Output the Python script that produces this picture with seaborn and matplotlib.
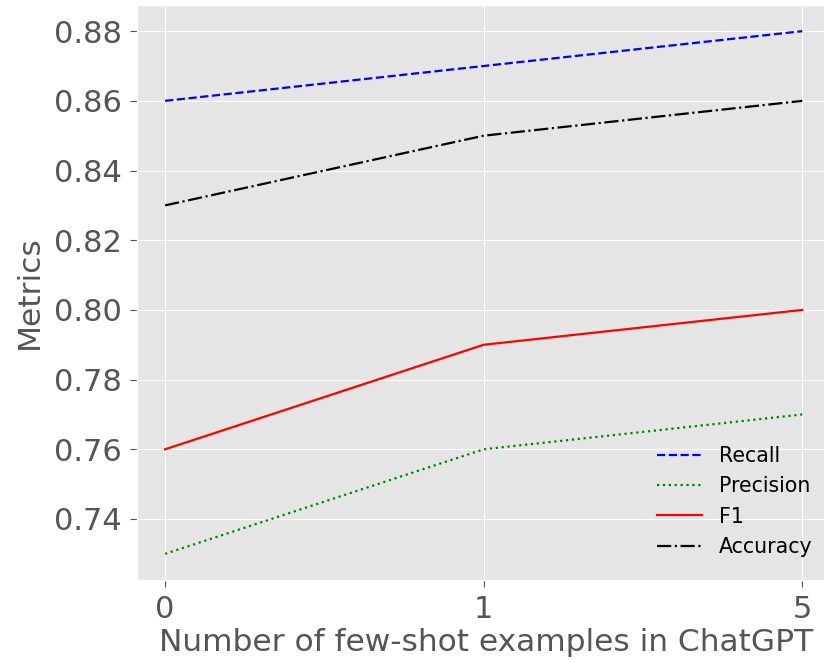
import pandas as pd
import matplotlib.pyplot as plt
import seaborn as sns

# -----------------------------
# DATA
# -----------------------------
shots = ["0", "1", "5"]
recall = [0.86, 0.87, 0.88]
precision = [0.73, 0.76, 0.77]
f1 = [0.76, 0.79, 0.80]
accuracy = [0.83, 0.85, 0.86]

df = pd.DataFrame({
    "pos": range(len(shots)),
    "Recall": recall,
    "Precision": precision,
    "F1": f1,
    "Accuracy": accuracy,
})

plt.style.use("ggplot")
fig = plt.figure(figsize=(8.24, 6.62), dpi=100)
ax = fig.add_axes([0.1663, 0.1239, 0.846, 0.8685])

styles = {
    "Recall": ("blue", "--"),
    "Precision": ("green", ":"),
    "F1": ("red", "-"),
    "Accuracy": ("black", "-."),
}
for name, (c, ls) in styles.items():
    sns.lineplot(data=df, x="pos", y=name, ax=ax, color=c, linestyle=ls,
                 linewidth=1.6, label=name)

ax.set_xticks(range(len(shots)))
ax.set_xticklabels(shots)
ax.set_xlim(-0.088, 2.1)
ax.set_ylim(0.7225, 0.8875)
ax.tick_params(labelsize=22, length=5, pad=6)
ax.set_xlabel("Number of few-shot examples in ChatGPT", fontsize=22.5, labelpad=3)
ax.set_ylabel("Metrics", fontsize=22.5, labelpad=7)
ax.legend(loc="lower right", fontsize=14.8, frameon=False, handlelength=2.2,
          handletextpad=0.8, bbox_to_anchor=(0.995, 0.008))

fig.savefig("out.png")
